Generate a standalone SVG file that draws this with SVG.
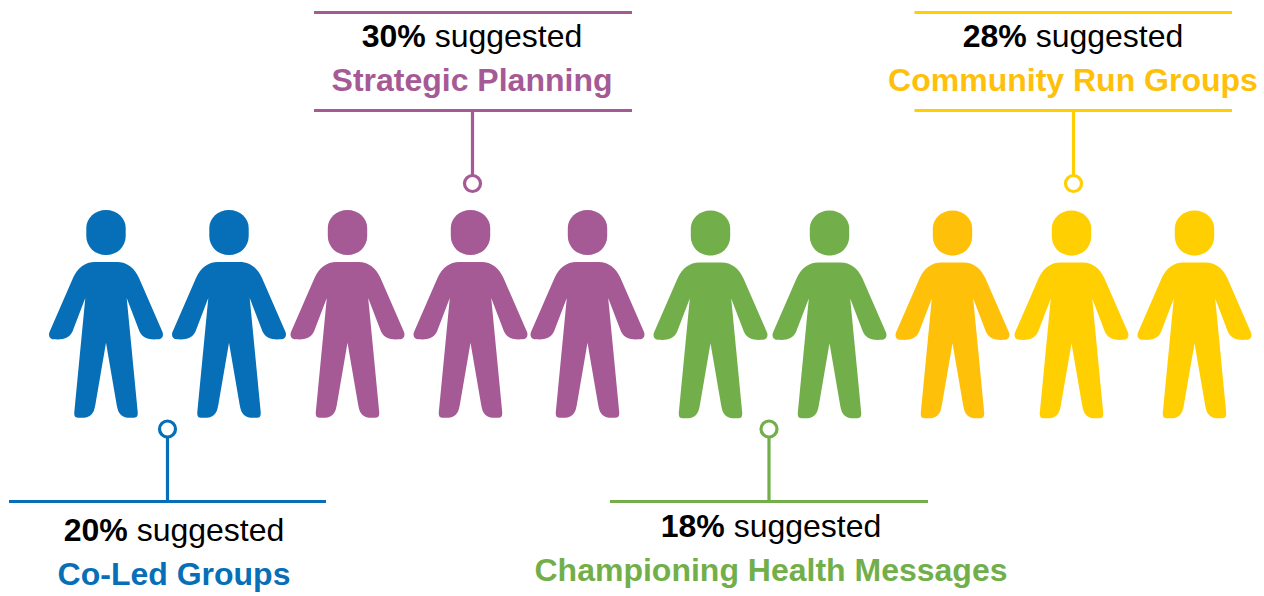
<svg xmlns="http://www.w3.org/2000/svg" width="1264" height="596" viewBox="0 0 1264 596">
<style>
text{font-family:"Liberation Sans",Arial,sans-serif;font-size:32px;text-anchor:middle}
.b{font-weight:700}
.l{fill:none;stroke-width:3.200}
.d{fill:#fff;stroke-width:3.200}
.blue{fill:#066fb8}.purple{fill:#a55a96}.green{fill:#72af4b}.amber{fill:#ffc00a}.yellow{fill:#ffcf01}
.sblue{stroke:#066fb8}.spurple{stroke:#a55a96}.sgreen{stroke:#72af4b}.syellow{stroke:#ffcf01}
</style>
<defs>
<g id="p">
<path d="M0 0C11 0 19.700 8 19.700 18V26C19.700 37 11 45 0 45C-11 45 -19.700 37 -19.700 26V18C-19.700 8 -11 0 0 0Z"/>
<path d="M-11 52H11C21 52 28.500 58 33 68L56.500 122C58 126 56 129.300 52 129.300C43 129.800 37.500 129 33.500 121.500L20.700 88L31.700 202C32 206 31 207.700 28 207.700C17 208.500 12.500 206 10.700 195L0 132.700L-10.700 195C-12.500 206 -17 208.500 -28 207.700C-31 207.700 -32 206 -31.700 202L-20.700 88L-33.500 121.500C-37.500 129 -43 129.800 -52 129.300C-56 129.300 -58 126 -56.500 122L-33 68C-28.500 58 -21 52 -11 52Z"/>
</g>
</defs>
<g id="connectors">
<path class="l sblue" d="M9 501.500H326M167.500 437V501.500"/>
<path class="l spurple" d="M314 12.500H632M314 110.500H632M472.500 110.500V175"/>
<path class="l sgreen" d="M610 501.500H928M769 437V501.500"/>
<path class="l syellow" d="M914.500 12.500H1232M914.500 110.500H1232M1073.500 110.500V175"/>
<circle class="d sblue" cx="167.500" cy="429" r="8"/>
<circle class="d spurple" cx="472.500" cy="183.500" r="8"/>
<circle class="d sgreen" cx="769" cy="429" r="8"/>
<circle class="d syellow" cx="1073.500" cy="183.500" r="8"/>
</g>
<g id="person-1" class="blue"><use href="#p" x="106" y="210"/></g>
<g id="person-2" class="blue"><use href="#p" x="229" y="210"/></g>
<g id="person-3" class="purple"><use href="#p" x="347.500" y="210"/></g>
<g id="person-4" class="purple"><use href="#p" x="470.500" y="210"/></g>
<g id="person-5" class="purple"><use href="#p" x="587.500" y="210"/></g>
<g id="person-6" class="green"><use href="#p" x="710.500" y="210.500"/></g>
<g id="person-7" class="green"><use href="#p" x="829.500" y="210.500"/></g>
<g id="person-8" class="amber"><use href="#p" x="952.500" y="210.500"/></g>
<g id="person-9" class="yellow"><use href="#p" x="1071.500" y="210.500"/></g>
<g id="person-10" class="yellow"><use href="#p" x="1194.500" y="210.500"/></g>
<g id="label-strategic"><text x="472" y="47"><tspan class="b">30%</tspan> suggested</text><text class="b purple" x="472" y="91">Strategic Planning</text></g>
<g id="label-community"><text x="1073" y="47"><tspan class="b">28%</tspan> suggested</text><text class="b amber" x="1073" y="91">Community Run Groups</text></g>
<g id="label-coled"><text x="174" y="541"><tspan class="b">20%</tspan> suggested</text><text class="b blue" x="174" y="585">Co-Led Groups</text></g>
<g id="label-health"><text x="771" y="537"><tspan class="b">18%</tspan> suggested</text><text class="b green" x="771" y="581">Championing Health Messages</text></g>
</svg>
